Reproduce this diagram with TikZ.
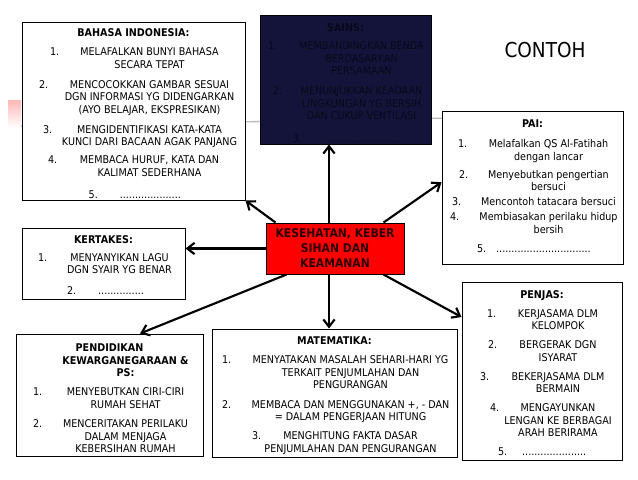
\documentclass[tikz,border=0pt]{standalone}
\usepackage{fontspec}
\setmainfont{DejaVu Sans}[FakeStretch=0.9]
\usepackage{array}
\usetikzlibrary{arrows.meta,
                positioning}

\newcolumntype{N}{>{\raggedright\arraybackslash}p{24pt}}
\newcolumntype{T}[1]{>{\centering\arraybackslash}p{#1}}
\newcommand{\jeda}[1]{\noalign{\vskip #1}}

\begin{document}
\begin{tikzpicture}[x=0.75pt, y=-0.75pt,
                    >={Straight Barb[length=5.5pt, width=8.5pt]},
                    kotak/.style={draw, fill=white, line width=0.75pt, inner xsep=3pt, inner ysep=0.5pt, font=\fontsize{8}{9.4}\selectfont},
                    panah/.style={->, line width=1.6pt}]
                \useasboundingbox (0,0) rectangle (638,479);
                \fill [white] (0,0) rectangle (638,479);
                \shade [top color=red!28, bottom color=white] (8,100) rectangle (21,128);
                \draw [gray!55, line width=1pt] (21,126) -- (450,118);
                \node (contoh) at (545,50) {\fontsize{15.4}{18}\selectfont CONTOH};
                \node [kotak, minimum width=167.25pt, minimum height=133.5pt] (bahasa) at (133.5,111) {%
                    \begin{tabular}{@{}N@{}T{137.25pt}@{}}
                    \multicolumn{2}{c}{\bfseries BAHASA INDONESIA:} \\ \jeda{4.9pt}
                    \hspace*{18pt}1. & MELAFALKAN BUNYI BAHASA\par SECARA TEPAT \\ \jeda{5.6pt}
                    \hspace*{9.75pt}2. & MENCOCOKKAN GAMBAR SESUAI\par DGN INFORMASI YG DIDENGARKAN\par (AYO BELAJAR, EKSPRESIKAN) \\ \jeda{5.6pt}
                    \hspace*{12.75pt}3. & MENGIDENTIFIKASI KATA-KATA\par KUNCI DARI BACAAN AGAK PANJANG \\ \jeda{4.1pt}
                    \hspace*{16.5pt}4. & MEMBACA HURUF, KATA DAN\par KALIMAT SEDERHANA \\ \jeda{7.1pt}
                    \multicolumn{2}{@{}l@{}}{\hspace*{47pt}5.\hspace*{16.5pt}....................} \\ \jeda{-6pt}
                    \end{tabular}};
                \node [kotak, fill={rgb,255:red,20;green,20;blue,58}, text={rgb,255:red,8;green,8;blue,28},
                       minimum width=128.25pt, minimum height=96.75pt] (sains) at (345.5,79.5) {%
                    \begin{tabular}{@{}N@{}T{98.25pt}@{}}
                    \multicolumn{2}{c}{\bfseries SAINS:} \\ \jeda{4.4pt}
                    \hspace*{3pt}1. & MEMBANDINGKAN BENDA\par BERDASARKAN\par PERSAMAAN \\ \jeda{5.5pt}
                    \hspace*{6.75pt}2. & MENUNJUKKAN KEADAAN\par LINGKUNGAN YG BERSIH\par DAN CUKUP VENTILASI \\ \jeda{8pt}
                    \multicolumn{2}{@{}l@{}}{\hspace*{22pt}3.\hspace*{19.5pt}.......................} \\ \jeda{-7.5pt}
                    \end{tabular}};
                \node [kotak, minimum width=135.75pt, minimum height=114.75pt] (pai) at (532.5,187.5) {%
                    \begin{tabular}{@{}N@{}T{105.75pt}@{}}
                    \multicolumn{2}{c}{\bfseries PAI:} \\ \jeda{5.6pt}
                    \hspace*{9pt}1. & Melafalkan QS Al-Fatihah\par dengan lancar \\ \jeda{4.1pt}
                    \hspace*{9.75pt}2. & Menyebutkan pengertian\par bersuci \\ \jeda{1.9pt}
                    \hspace*{4.5pt}3. & Mencontoh tatacara bersuci \\ \jeda{1.9pt}
                    \hspace*{3pt}4. & Membiasakan perilaku hidup\par bersih \\ \jeda{4.9pt}
                    \multicolumn{2}{@{}l@{}}{\hspace*{23.25pt}5.\hspace*{7.5pt}...............................}
                    \end{tabular}};
                \node [kotak, minimum width=122.25pt, minimum height=53.25pt] (kertakes) at (103.5,263.5) {%
                    \begin{tabular}{@{}N@{}T{92.25pt}@{}}
                    \multicolumn{2}{c}{\bfseries KERTAKES:} \\ \jeda{4.1pt}
                    \hspace*{9pt}1. & MENYANYIKAN LAGU\par DGN SYAIR YG BENAR \\ \jeda{6.4pt}
                    \multicolumn{2}{@{}l@{}}{\hspace*{30.75pt}2.\hspace*{16.5pt}...............} \\ \jeda{-4.5pt}
                    \end{tabular}};
                \node [kotak, minimum width=120pt, minimum height=133.5pt] (penjas) at (542,371) {%
                    \begin{tabular}{@{}N@{}T{90pt}@{}}
                    \multicolumn{2}{c}{\bfseries PENJAS:} \\ \jeda{4.8pt}
                    \hspace*{15.75pt}1. & KERJASAMA DLM\par KELOMPOK \\ \jeda{4.8pt}
                    \hspace*{16.5pt}2. & BERGERAK DGN\par ISYARAT \\ \jeda{4.8pt}
                    \hspace*{10.5pt}3. & BEKERJASAMA DLM\par BERMAIN \\ \jeda{4.8pt}
                    \hspace*{18pt}4. & MENGAYUNKAN\par LENGAN KE BERBAGAI\par ARAH BERIRAMA \\ \jeda{4.8pt}
                    \multicolumn{2}{@{}l@{}}{\hspace*{24pt}5.\hspace*{11.25pt}.....................} \\ \jeda{-5pt}
                    \end{tabular}};
                \node [kotak, minimum width=140.25pt, minimum height=91.5pt] (pkn) at (109.5,395) {%
                    \begin{tabular}{@{}N@{}T{110.25pt}@{}}
                    & \bfseries PENDIDIKAN\hspace*{24pt}\par KEWARGANEGARAAN \&\par PS: \\ \jeda{5pt}
                    \hspace*{9.75pt}1. & MENYEBUTKAN CIRI-CIRI\par RUMAH SEHAT \\ \jeda{5pt}
                    \hspace*{9.75pt}2. & MENCERITAKAN PERILAKU\par DALAM MENJAGA\par KEBERSIHAN RUMAH \\ \jeda{-6.75pt}
                    \end{tabular}};
                \node [kotak, minimum width=183.75pt, minimum height=96pt] (mtk) at (334.5,393) {%
                    \begin{tabular}{@{}N@{}T{153.75pt}@{}}
                    \multicolumn{2}{c}{\bfseries MATEMATIKA:} \\ \jeda{5pt}
                    \hspace*{4.5pt}1. & MENYATAKAN MASALAH SEHARI-HARI YG\par TERKAIT PENJUMLAHAN DAN\par PENGURANGAN \\ \jeda{5pt}
                    \hspace*{4.5pt}2. & MEMBACA DAN MENGGUNAKAN +, - DAN\par = DALAM PENGERJAAN HITUNG \\ \jeda{5pt}
                    \hspace*{27pt}3. & MENGHITUNG FAKTA DASAR\par PENJUMLAHAN DAN PENGURANGAN \\ \jeda{-4.5pt}
                    \end{tabular}};
                \node [draw, line width=0.75pt, fill=red, text={rgb,255:red,45;green,0;blue,0}, align=center,
                       font=\bfseries\fontsize{9}{11.25}\selectfont,
                       minimum width=103.5pt, minimum height=38.25pt] (pusat) at (335,248.5) {KESEHATAN, KEBER\\SIHAN DAN\\KEAMANAN};
                \draw [panah] ([xshift=7.5pt]pusat.north west) -- (bahasa.south east);
                \draw [panah] ([xshift=-4.5pt]pusat.north) -- ([xshift=-4.5pt]pusat.north |- sains.south);
                \draw [panah] ([xshift=-15.75pt]pusat.north east) -- ([yshift=4pt]pai.west);
                \draw [panah] (pusat.west) -- (pusat.west -| kertakes.east);
                \draw [panah] ([xshift=15.75pt]pusat.south west) -- ([xshift=22.9pt]pkn.north);
                \draw [panah] ([xshift=-4.5pt]pusat.south) -- ([xshift=-4.5pt]pusat.south |- mtk.north);
                \draw [panah] ([xshift=-15.75pt]pusat.south east) -- ([yshift=40.5pt]penjas.west);
            \end{tikzpicture}
\end{document}
